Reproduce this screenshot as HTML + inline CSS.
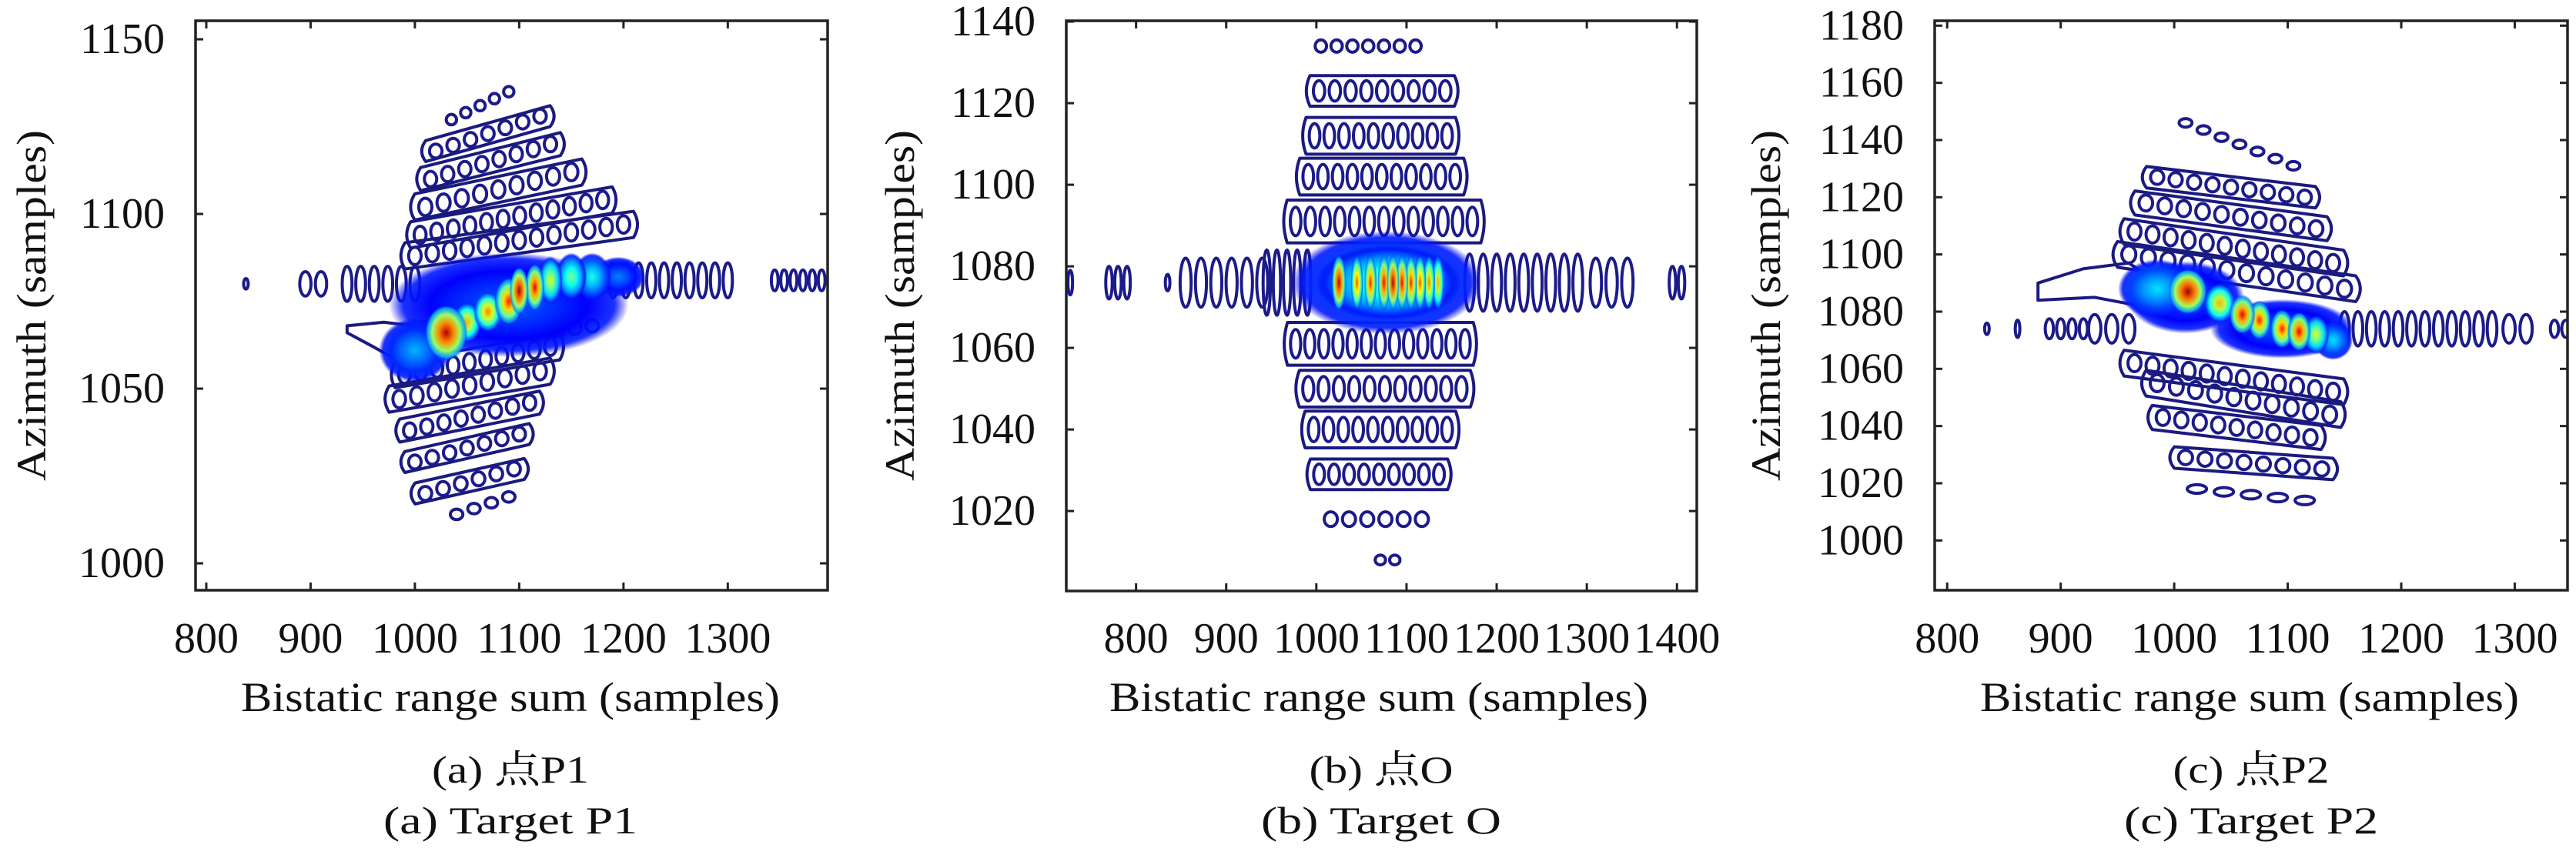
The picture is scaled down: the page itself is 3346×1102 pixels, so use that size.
<!DOCTYPE html>
<html><head><meta charset="utf-8"><style>
html,body{margin:0;padding:0;background:#fff;}
svg{display:block;}
text{font-family:"Liberation Serif","Noto Serif CJK SC","Noto Sans CJK SC",serif;fill:#111;}
</style></head><body>
<svg id="fig" width="3346" height="1102" viewBox="0 0 3346 1102" xmlns="http://www.w3.org/2000/svg">
<defs id="defs"></defs>
</svg>
<script>
// ---- Panel (a) P1 data ----
const p1XTicks = [800,900,1000,1100,1200,1300];
const p1YTicks = [1000,1050,1100,1150];
const p1Rows = [
 [1035,1127,1090,1135,5,1.5,0],[1020,1118,1120,1128,7,2,1],[1015,1110,1130,1120,8,2.2,1],
 [1010,1102,1150,1112,9,2.5,1],[1005,1094,1180,1104,12,2.5,1],[1000,1088,1200,1097,13,2.5,1],
 [990,1054,1130,1062,10,2.5,1],[985,1047,1120,1055,9,2.5,1],[995,1038,1110,1046,8,2.2,1],
 [1000,1029,1100,1037,7,2,1],[1010,1020,1095,1027,6,2,1],[1040,1014,1090,1019,4,1.5,0],
 [1120,1066,1170,1068,4,1.8,0],
 [838,1080,838,1080,1,1.5,0],[895,1080,910,1080,2,3.5,0],[935,1080,1000,1080,6,5,0],
 [1190,1081,1300,1081,10,5,0],[1345,1081,1390,1081,6,3,0]
];
const p1Tail = [[935,1066],[960,1062],[990,1057],[1010,1056],[1000,1068],[970,1069],[935,1068]];
const p1Core = [
 [1090,1074,100,13,0.22],[1000,1061,30,8,0.3],[1195,1082,22,5,0.25],[1170,1082,16,6,0.4],
 [1150,1082,13,6,0.5],[1130,1081,10,6,0.6],[1050,1069,12,5,0.7],[1070,1072,12,5,0.75],
 [1090,1075,12,6,0.85],[1115,1079,8,6,0.9],[1030,1066,18,7,0.95],[1100,1078,8,6,0.97]
];
// ---- Panel (b) O data ----
const p2XTicks = [800,900,1000,1100,1200,1300,1400];
const p2YTicks = [1020,1040,1060,1080,1100,1120,1140];
const p2Rows = [
 [1005,1134,1110,1134,7,1.5,0],[1003,1123,1143,1123,9,2.5,1],[998,1112,1145,1112,10,3,1],
 [991,1102,1154,1102,11,3,1],[977,1091,1173,1091,13,3.5,1],[977,1061,1165,1061,13,3.5,1],
 [991,1050,1161,1050,11,3,1],[997,1040,1145,1040,10,3,1],[1003,1029,1136,1029,9,2.5,1],
 [1016,1018,1117,1018,6,1.8,0],[1071,1008,1087,1008,2,1.2,0],
 [727,1076,727,1076,1,3,0],[770,1076,790,1076,3,4,0],[835,1076,835,1076,1,2,0],
 [855,1076,940,1076,6,6,0],[945,1076,990,1076,5,8,0],[1170,1076,1290,1076,9,7,0],
 [1310,1076,1345,1076,3,6,0],[1395,1076,1405,1076,2,4,0]
];
const p2Tail = [];
const p2Core = [
 [1078,1076,92,11,0.33],[1080,1076,70,8,0.5],[1135,1076,6,6,0.7],[1125,1076,6,6,0.75],
 [1045,1076,6,6,0.8],[1115,1076,6,6,0.8],[1060,1076,6,6,0.85],[1105,1076,6,6,0.85],
 [1075,1076,6,6,0.9],[1095,1076,6,6,0.9],[1025,1076,7,6,0.95],[1085,1076,6,6,0.96]
];
// ---- Panel (c) P2 data ----
const p3XTicks = [800,900,1000,1100,1200,1300];
const p3YTicks = [1000,1020,1040,1060,1080,1100,1120,1140,1160,1180];
const p3Rows = [
 [1010,1146,1105,1131,7,1.5,0],[985,1127,1115,1120,9,2.5,1],[975,1118,1125,1109,10,2.8,1],
 [965,1108,1140,1097,12,3,1],[960,1100,1150,1088,12,3,1],
 [965,1062,1140,1052,12,3,1],[985,1055,1137,1044,10,3,1],[990,1043,1120,1036,9,2.8,1],
 [1010,1029,1130,1025,8,2.5,1],[1020,1018,1115,1014,5,1.5,0],
 [835,1074,835,1074,1,2,0],[862,1074,862,1074,1,3,0],[890,1074,920,1074,4,3.5,0],
 [930,1074,960,1074,3,5,0],[1150,1074,1280,1074,12,6,0],[1295,1074,1310,1074,2,5,0],
 [1335,1074,1345,1074,2,3,0]
];
const p3Tail = [[880,1090],[920,1095],[960,1097],[975,1093],[970,1082],[930,1085],[880,1084]];
const p3Core = [
 [1010,1085,45,11,0.22],[1095,1074,55,9,0.22],[985,1088,30,9,0.35],[1140,1070,15,6,0.35],
 [1125,1072,10,6,0.6],[1040,1083,12,6,0.7],[1075,1077,9,6,0.85],[1095,1074,9,6,0.85],
 [1060,1079,10,6,0.9],[1110,1073,9,6,0.9],[1012,1087,15,7,0.97]
];

const NS="http://www.w3.org/2000/svg";
const svg=document.getElementById('fig');
const defs=document.getElementById('defs');
function mk(tag,attrs,parent){const e=document.createElementNS(NS,tag);for(const k in attrs)e.setAttribute(k,attrs[k]);(parent||svg).appendChild(e);return e;}
function cl(v){return Math.max(0,Math.min(1,v));}
function jet(t){const r=cl(1.5-Math.abs(4*t-3)),g=cl(1.5-Math.abs(4*t-2)),b=cl(1.5-Math.abs(4*t-1));return `rgb(${Math.round(r*255)},${Math.round(g*255)},${Math.round(b*255)})`;}
let gid=0;
function grad(I){const id='g'+(gid++);const g=mk('radialGradient',{id:id},defs);
 const st=[[0,I,1],[0.35,I*0.78,1],[0.65,I*0.55,1],[0.88,Math.max(0.15,I*0.3),0.9],[1,0.1,0]];
 st.forEach(s=>mk('stop',{offset:s[0],'stop-color':jet(s[1]),'stop-opacity':s[2]},g));return id;}

function panel(cfg){
 const {key,L,R,T,B,xd,yd,xt,yt,rows,tail,core,ylx,ylr,xlc,capc,cap1,cap1w,cap2,cap2w}=cfg;
 const sx=v=>L+(v-xd[0])*(R-L)/(xd[1]-xd[0]);
 const sy=v=>B-(v-yd[0])*(B-T)/(yd[1]-yd[0]);
 const g=mk('g',{});
 
 
 const clipId='clip'+key;const cp=mk('clipPath',{id:clipId},defs);mk('rect',{x:L,y:T,width:R-L,height:B-T},cp);
 const plot=mk('g',{'clip-path':`url(#${clipId})`},g);
 
 
 const ppx=(R-L)/(xd[1]-xd[0]), ppy=(B-T)/(yd[1]-yd[0]);
 rows.forEach(r=>{
  const [x1,y1,x2,y2,n,ry,ol]=r;
  const X1=sx(x1),Y1=sy(y1),X2=sx(x2),Y2=sy(y2);
  const sp=n>1?(X2-X1)/(n-1):8;
  const rx=Math.max(3,sp*0.36), RY=ry*ppy;
  for(let i=0;i<n;i++){
   const t=n>1?i/(n-1):0;
   const e=mk('ellipse',{cx:X1+(X2-X1)*t,cy:Y1+(Y2-Y1)*t,rx:rx,ry:RY,fill:'none',stroke:'#1b1b8a','stroke-width':4},plot);
   
   
  }
  if(ol){
   const pad=rx*1.6,h=RY*1.5;
   const d=`M${X1-pad},${Y1-h} L${X2+pad},${Y2-h} Q${X2+pad*1.8},${(Y2)} ${X2+pad},${Y2+h} L${X1-pad},${Y1+h} Q${X1-pad*1.8},${Y1} ${X1-pad},${Y1-h} Z`;
   const p=mk('path',{d:d,fill:'none',stroke:'#1a1a80','stroke-width':4,'stroke-linejoin':'round'},plot);
   
   
  }
 });
 if(tail.length){
  const d='M'+tail.map(p=>sx(p[0])+','+sy(p[1])).join(' L')+' Z';
  const p=mk('path',{d:d,fill:'none',stroke:'#1a1a80','stroke-width':4,'stroke-linejoin':'round'},plot);
  
  
 }
 core.forEach(c=>{
  const [x,y,rx,ry,I]=c;
  const e=mk('ellipse',{cx:sx(x),cy:sy(y),rx:rx*ppx*1.15,ry:ry*ppy*1.15,fill:`url(#${grad(I)})`},plot);
  
  
 });
 const fr=mk('rect',{x:L,y:T,width:R-L,height:B-T,fill:'none',stroke:'#222','stroke-width':3.5},g);
 
 
 xt.forEach(v=>{
  const X=sx(v);
  mk('line',{x1:X,y1:B,x2:X,y2:B-10,stroke:'#222','stroke-width':3},g);
  mk('line',{x1:X,y1:T,x2:X,y2:T+10,stroke:'#222','stroke-width':3},g);
  const t=mk('text',{x:X,y:848,'font-size':56,'text-anchor':'middle'},g);
  
  
  t.textContent=v;
 });
 yt.forEach(v=>{
  const Y=sy(v);
  mk('line',{x1:L,y1:Y,x2:L+10,y2:Y,stroke:'#222','stroke-width':3},g);
  mk('line',{x1:R,y1:Y,x2:R-10,y2:Y,stroke:'#222','stroke-width':3},g);
  const t=mk('text',{x:ylr,y:Y+18,'font-size':56,'text-anchor':'end'},g);
  
  
  t.textContent=v;
 });
 const xl=mk('text',{x:xlc,y:924,'font-size':54,'text-anchor':'middle',textLength:700,lengthAdjust:'spacingAndGlyphs'},g);
 
 
 xl.textContent='Bistatic range sum (samples)';
 const yl=mk('text',{x:0,y:0,'font-size':54,'text-anchor':'middle',textLength:456,lengthAdjust:'spacingAndGlyphs',transform:`translate(${ylx+17},397) rotate(-90)`},g);
 
 
 yl.textContent='Azimuth (samples)';
 const c1=mk('text',{x:capc,y:1017,'font-size':50,'text-anchor':'middle',textLength:cap1w,lengthAdjust:'spacingAndGlyphs'},g);
 
 
 c1.textContent=cap1;
 const c2=mk('text',{x:capc,y:1083,'font-size':50,'text-anchor':'middle',textLength:cap2w,lengthAdjust:'spacingAndGlyphs'},g);
 
 
 c2.textContent=cap2;
}
panel({key:'a',L:254,R:1075,T:27,B:767,xd:[789.7,1395.7],yd:[992.3,1155.3],xt:p1XTicks,yt:p1YTicks,rows:p1Rows,tail:p1Tail,core:p1Core,ylx:42,ylr:214,xlc:663,capc:663,cap1:'(a) 点P1',cap1w:204,cap2:'(a) Target P1',cap2w:330});
panel({key:'b',L:1385,R:2204,T:27,B:768,xd:[722.6,1422],yd:[1000.4,1140.2],xt:p2XTicks,yt:p2YTicks,rows:p2Rows,tail:p2Tail,core:p2Core,ylx:1170,ylr:1345,xlc:1791,capc:1794,cap1:'(b) 点O',cap1w:187,cap2:'(b) Target O',cap2w:312});
panel({key:'c',L:2513,R:3335,T:27,B:767,xd:[789,1346.5],yd:[982.6,1181.7],xt:p3XTicks,yt:p3YTicks,rows:p3Rows,tail:p3Tail,core:p3Core,ylx:2295,ylr:2473,xlc:2922,capc:2924,cap1:'(c) 点P2',cap1w:203,cap2:'(c) Target P2',cap2w:330});
</script>
</body></html>
